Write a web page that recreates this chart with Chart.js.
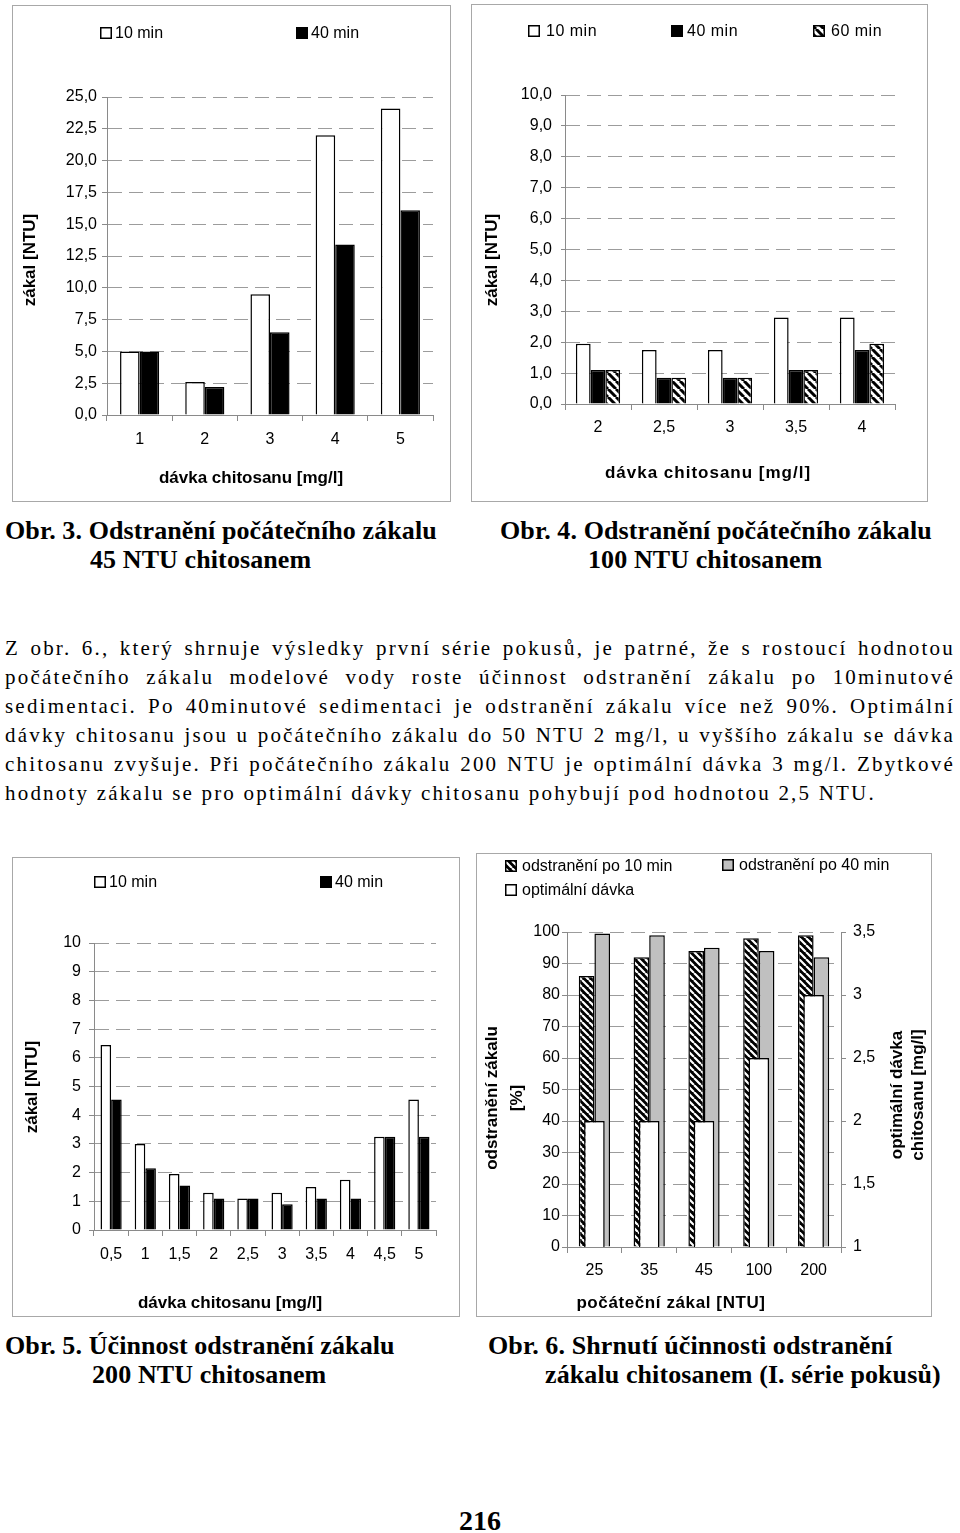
<!DOCTYPE html>
<html><head><meta charset="utf-8">
<script src="https://cdn.jsdelivr.net/npm/chart.js@4.4.1/dist/chart.umd.min.js"></script>
<style>
html,body{margin:0;padding:0;background:#fff;}
body{width:960px;height:1533px;position:relative;overflow:hidden;}
.box{position:absolute;border:1px solid #a8a8a8;box-sizing:border-box;background:#fff;}
.box canvas{display:block;}
.t{position:absolute;white-space:nowrap;font-family:"Liberation Serif","Times New Roman",serif;color:#000;}
.cap{font-weight:bold;font-size:26px;line-height:29px;letter-spacing:0.1px;}
.txt{font-size:21px;line-height:29px;letter-spacing:2.2px;}
.pn{font-weight:bold;font-size:28px;line-height:32px;}
</style></head>
<body>
<div class="box" style="left:12px;top:5px;width:439px;height:497px"><canvas id="c1" width="437" height="495"></canvas></div>
<div class="box" style="left:471px;top:4px;width:457px;height:498px"><canvas id="c2" width="455" height="496"></canvas></div>
<div class="box" style="left:12px;top:857px;width:448px;height:460px"><canvas id="c3" width="446" height="458"></canvas></div>
<div class="box" style="left:476px;top:853px;width:456px;height:464px"><canvas id="c4" width="454" height="462"></canvas></div>

<div class="t cap" style="left:5px;top:516px">Obr. 3. Odstranění počátečního zákalu</div>
<div class="t cap" style="left:90px;top:545px">45 NTU chitosanem</div>
<div class="t cap" style="left:500px;top:516px">Obr. 4. Odstranění počátečního zákalu</div>
<div class="t cap" style="left:588px;top:545px">100 NTU chitosanem</div>

<div class="t txt j" style="left:5px;top:634px">Z obr. 6., který shrnuje výsledky první série pokusů, je patrné, že s rostoucí hodnotou</div>
<div class="t txt j" style="left:5px;top:663px">počátečního zákalu modelové vody roste účinnost odstranění zákalu po 10minutové</div>
<div class="t txt j" style="left:5px;top:692px">sedimentaci. Po 40minutové sedimentaci je odstranění zákalu více než 90%. Optimální</div>
<div class="t txt j" style="left:5px;top:721px">dávky chitosanu jsou u počátečního zákalu do 50 NTU 2 mg/l, u vyššího zákalu se dávka</div>
<div class="t txt j" style="left:5px;top:750px">chitosanu zvyšuje. Při počátečního zákalu 200 NTU je optimální dávka 3 mg/l. Zbytkové</div>
<div class="t txt" style="left:5px;top:779px">hodnoty zákalu se pro optimální dávky chitosanu pohybují pod hodnotou 2,5 NTU.</div>

<div class="t cap" style="left:5px;top:1331px">Obr. 5. Účinnost odstranění zákalu</div>
<div class="t cap" style="left:92px;top:1360px">200 NTU chitosanem</div>
<div class="t cap" style="left:488px;top:1331px">Obr. 6. Shrnutí účinnosti odstranění</div>
<div class="t cap" style="left:545px;top:1360px">zákalu chitosanem (I. série pokusů)</div>

<div class="t pn" style="left:0;width:960px;text-align:center;top:1505px">216</div>

<script>
// ---------- DATA ----------
const cat1 = ['1','2','3','4','5'];
const c1_10 = [5.0, 2.6, 9.5, 22.0, 24.1];
const c1_40 = [5.0, 2.2, 6.5, 13.4, 16.1];
const yTicks1 = ['0,0','2,5','5,0','7,5','10,0','12,5','15,0','17,5','20,0','22,5','25,0'];

const cat2 = ['2','2,5','3','3,5','4'];
const c2_10 = [1.95, 1.75, 1.75, 2.8, 2.8];
const c2_40 = [1.1, 0.85, 0.85, 1.1, 1.75];
const c2_60 = [1.1, 0.85, 0.85, 1.1, 1.95];
const yTicks2 = ['0,0','1,0','2,0','3,0','4,0','5,0','6,0','7,0','8,0','9,0','10,0'];

const cat3 = ['0,5','1','1,5','2','2,5','3','3,5','4','4,5','5'];
const c3_10 = [6.45, 3.0, 1.95, 1.3, 1.1, 1.3, 1.5, 1.75, 3.25, 4.55];
const c3_40 = [4.55, 2.15, 1.55, 1.1, 1.1, 0.9, 1.1, 1.1, 3.25, 3.25];
const yTicks3 = ['0','1','2','3','4','5','6','7','8','9','10'];

const cat4 = ['25','35','45','100','200'];
const c4_10 = [86, 92, 94, 98, 99];
const c4_40 = [99.5, 99, 95, 94, 92];
const c4_opt = [2, 2, 2, 2.5, 3];
const yTicks4L = ['0','10','20','30','40','50','60','70','80','90','100'];
const yTicks4R = ['1','1,5','2','2,5','3','3,5'];

const lbl10 = '10 min', lbl40 = '40 min', lbl60 = '60 min';
const lbl4a = 'odstranění po 10 min', lbl4b = 'odstranění po 40 min', lbl4c = 'optimální dávka';
const yTitle = 'zákal [NTU]';
const xTitle = 'dávka chitosanu [mg/l]';
const yTitle4L = ['odstranění zákalu', '[%]'];
const yTitle4R = ['optimální dávka', 'chitosanu [mg/l]'];
const xTitle4 = 'počáteční zákal [NTU]';

// ---------- STYLE / HELPERS ----------
const FF = '"Liberation Sans", Arial, sans-serif';
Chart.defaults.font.family = FF;
Chart.defaults.color = '#000';
const AXIS = '#8a8a8a', GRID = '#9c9c9c';
const tickFont = {family: FF, size: 16};

function hatch(ctx, bg, fg, size, lw) {
  const c = document.createElement('canvas'); c.width = size; c.height = size;
  const x = c.getContext('2d');
  x.fillStyle = bg; x.fillRect(0, 0, size, size);
  x.strokeStyle = fg; x.lineWidth = lw;
  x.beginPath();
  for (let k = -size; k <= size; k += size) { x.moveTo(k, 0); x.lineTo(k + size, size); }
  x.stroke();
  return ctx.createPattern(c, 'repeat');
}

function yScale(min, max, step, labels, tl, pad, width, position, onArea) {
  return {
    type: 'linear', position: position, min: min, max: max,
    ticks: {stepSize: step, maxTicksLimit: 30, padding: pad, color: '#000', font: tickFont,
            callback: (v, i) => labels[i]},
    grid: {display: true, drawOnChartArea: onArea, color: GRID, lineWidth: 1, tickLength: tl, tickColor: AXIS, drawTicks: true},
    border: {display: true, color: AXIS, width: 1, dash: [14, 7]},
    afterFit: s => { s.width = width; }
  };
}
function xScale(tl, pad, height) {
  return {
    type: 'category',
    ticks: {padding: pad, color: '#000', font: tickFont, autoSkip: false, maxRotation: 0},
    grid: {display: true, drawOnChartArea: false, drawTicks: true, tickLength: tl, color: AXIS, tickColor: AXIS, offset: true},
    border: {display: true, color: AXIS, width: 1},
    afterFit: s => { s.height = height; }
  };
}

const decor = {
  id: 'decor',
  afterDraw(chart, args, opts) {
    const ctx = chart.ctx;
    ctx.save();
    (opts.legend || []).forEach(it => {
      const ds = chart.data.datasets[it.ds];
      ctx.fillStyle = ds.backgroundColor;
      ctx.fillRect(it.x, it.y - 6, 12, 12);
      ctx.strokeStyle = '#000'; ctx.lineWidth = 1.5;
      ctx.strokeRect(it.x + 0.75, it.y - 5.25, 10.5, 10.5);
      ctx.fillStyle = '#000';
      ctx.font = '16px ' + FF;
      ctx.textAlign = 'left'; ctx.textBaseline = 'middle';
      ctx.letterSpacing = it.ls || '0px';
      ctx.fillText(ds.label, it.x + it.gap, it.y + 1);
    });
    (opts.texts || []).forEach(t => {
      ctx.save();
      ctx.translate(t.x, t.y);
      if (t.rot) ctx.rotate(t.rot);
      ctx.font = 'bold 17px ' + FF;
      ctx.fillStyle = '#000';
      ctx.textAlign = 'center'; ctx.textBaseline = 'middle';
      ctx.letterSpacing = t.ls || '0px';
      ctx.fillText(t.text, 0, 0);
      ctx.restore();
    });
    ctx.restore();
  }
};

const base = (padTop, padRight) => ({
  responsive: false, animation: false, devicePixelRatio: 1,
  layout: {padding: {top: padTop, right: padRight, left: 0, bottom: 0}},
  plugins: {legend: {display: false}, tooltip: {enabled: false}}
});
const R = -Math.PI / 2;

// ---------- CHART 1 ----------
(() => {
  const ctx = document.getElementById('c1').getContext('2d');
  const o = base(91, 17);
  o.scales = {x: xScale(6, 9, 86), y: yScale(0, 25, 2.5, yTicks1, 5, 5, 94, 'left', true)};
  o.plugins.decor = {
    legend: [{ds: 0, x: 87, y: 27, gap: 15}, {ds: 1, x: 283, y: 27, gap: 15}],
    texts: [{text: yTitle, x: 17, y: 254, rot: R}, {text: xTitle, x: 238, y: 472}]
  };
  new Chart(ctx, {
    type: 'bar',
    data: {labels: cat1, datasets: [
      {label: lbl10, data: c1_10, backgroundColor: '#fff', borderColor: '#000', borderWidth: 1.5, barPercentage: 1, categoryPercentage: 0.6},
      {label: lbl40, data: c1_40, backgroundColor: '#000', borderColor: '#000', borderWidth: 1.5, barPercentage: 1, categoryPercentage: 0.6}
    ]},
    options: o, plugins: [decor]
  });
})();

// ---------- CHART 2 ----------
(() => {
  const ctx = document.getElementById('c2').getContext('2d');
  const o = base(90, 32);
  o.scales = {x: xScale(6, 8, 97), y: yScale(0, 10, 1, yTicks2, 4, 9, 93, 'left', true)};
  o.plugins.decor = {
    legend: [{ds: 0, x: 56, y: 26, gap: 18, ls: '0.5px'}, {ds: 1, x: 199, y: 26, gap: 16, ls: '0.5px'}, {ds: 2, x: 341, y: 26, gap: 18, ls: '0.5px'}],
    texts: [{text: yTitle, x: 20, y: 255, rot: R}, {text: xTitle, x: 236, y: 468, ls: '1px'}]
  };
  const pat = hatch(ctx, '#fff', '#000', 8, 3);
  new Chart(ctx, {
    type: 'bar',
    data: {labels: cat2, datasets: [
      {label: lbl10, data: c2_10, backgroundColor: '#fff', borderColor: '#000', borderWidth: 1.5, barPercentage: 1, categoryPercentage: 0.67},
      {label: lbl40, data: c2_40, backgroundColor: '#000', borderColor: '#000', borderWidth: 1.5, barPercentage: 1, categoryPercentage: 0.67},
      {label: lbl60, data: c2_60, backgroundColor: pat, borderColor: '#000', borderWidth: 1.5, barPercentage: 1, categoryPercentage: 0.67}
    ]},
    options: o, plugins: [decor]
  });
})();

// ---------- CHART 3 ----------
(() => {
  const ctx = document.getElementById('c3').getContext('2d');
  const o = base(85, 23);
  o.scales = {x: xScale(6, 9, 86), y: yScale(0, 10, 1, yTicks3, 5, 8, 81, 'left', true)};
  o.plugins.decor = {
    legend: [{ds: 0, x: 81, y: 24, gap: 15}, {ds: 1, x: 307, y: 24, gap: 15}],
    texts: [{text: yTitle, x: 19, y: 229, rot: R}, {text: xTitle, x: 217, y: 445}]
  };
  new Chart(ctx, {
    type: 'bar',
    data: {labels: cat3, datasets: [
      {label: lbl10, data: c3_10, backgroundColor: '#fff', borderColor: '#000', borderWidth: 1.5, barPercentage: 1, categoryPercentage: 0.62},
      {label: lbl40, data: c3_40, backgroundColor: '#000', borderColor: '#000', borderWidth: 1.5, barPercentage: 1, categoryPercentage: 0.62}
    ]},
    options: o, plugins: [decor]
  });
})();

// ---------- CHART 4 ----------
(() => {
  const ctx = document.getElementById('c4').getContext('2d');
  const o = base(78, 0);
  o.scales = {
    x: xScale(6, 8, 69),
    y: yScale(0, 100, 10, yTicks4L, 5, 2, 90, 'left', true),
    y1: yScale(1, 3.5, 0.5, yTicks4R, 5, 7, 90, 'right', false)
  };
  o.plugins.decor = {
    legend: [{ds: 0, x: 28, y: 12, gap: 17}, {ds: 1, x: 245, y: 11, gap: 17}, {ds: 2, x: 28, y: 36, gap: 17}],
    texts: [
      {text: yTitle4L[0], x: 15, y: 244, rot: R}, {text: yTitle4L[1], x: 40, y: 244, rot: R},
      {text: yTitle4R[0], x: 420, y: 241, rot: R}, {text: yTitle4R[1], x: 441, y: 241, rot: R},
      {text: xTitle4, x: 194, y: 449, ls: '0.6px'}
    ]
  };
  const pat = hatch(ctx, '#000', '#fff', 7, 2.2);
  new Chart(ctx, {
    type: 'bar',
    data: {labels: cat4, datasets: [
      {label: lbl4a, data: c4_10, yAxisID: 'y', order: 1, backgroundColor: pat, borderColor: '#000', borderWidth: 1.5, barPercentage: 1, categoryPercentage: 0.57},
      {label: lbl4b, data: c4_40, yAxisID: 'y', order: 1, backgroundColor: '#c0c0c0', borderColor: '#000', borderWidth: 1.5, barPercentage: 1, categoryPercentage: 0.57},
      {label: lbl4c, data: c4_opt, yAxisID: 'y1', order: 0, grouped: false, backgroundColor: '#fff', borderColor: '#000', borderWidth: 1.5, barPercentage: 0.376, categoryPercentage: 1}
    ]},
    options: o, plugins: [decor]
  });
})();

// ---------- justify body text lines ----------
document.querySelectorAll('.j').forEach(el => {
  const w = el.getBoundingClientRect().width;
  const n = (el.textContent.match(/ /g) || []).length;
  el.style.wordSpacing = ((950 - w) / n) + 'px';
});
</script>
</body></html>
